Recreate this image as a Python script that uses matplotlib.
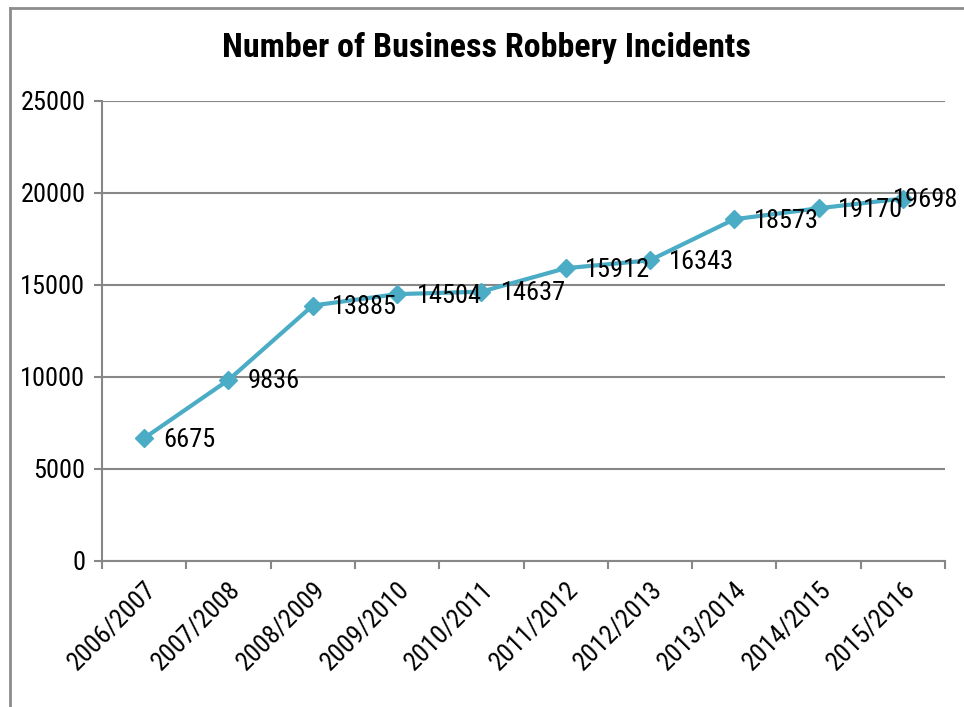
import matplotlib
matplotlib.use('Agg')
import matplotlib.pyplot as plt
from matplotlib.lines import Line2D

years = ['2006/2007', '2007/2008', '2008/2009', '2009/2010', '2010/2011',
         '2011/2012', '2012/2013', '2013/2014', '2014/2015', '2015/2016']
incidents = [6675, 9836, 13885, 14504, 14637, 15912, 16343, 18573, 19170, 19698]
y_ticks = [0, 5000, 10000, 15000, 20000, 25000]

plt.rcParams['font.family'] = ['Roboto Condensed', 'DejaVu Sans']

line_color = '#4BACC6'
grid_color = '#878787'

fig = plt.figure(figsize=(9.64, 7.07), dpi=100)
ax = fig.add_axes([102 / 964, 1 - 561 / 707, (945 - 102) / 964, (561 - 101) / 707])

x = list(range(len(years)))
ax.plot(x, incidents, color=line_color, lw=3, marker='D', ms=9,
        mec=line_color, mfc=line_color, zorder=3, clip_on=False)

for xi, v in zip(x[:-1], incidents[:-1]):
    ax.annotate(str(v), (xi, v), xytext=(14, -1), textcoords='offset points',
                ha='left', va='center', fontsize=19, color='black', zorder=4,
                annotation_clip=False)

# the last label is pushed back against the right edge of the chart
ax.annotate(str(incidents[-1]), (0.994, incidents[-1]),
            xycoords=('figure fraction', 'data'), xytext=(0, -1),
            textcoords='offset points', ha='right', va='center',
            fontsize=19, color='black', zorder=4, annotation_clip=False)

ax.set_xlim(-0.5, len(years) - 0.5)
ax.set_ylim(0, 25000)
ax.set_yticks(y_ticks)
ax.set_yticklabels([str(t) for t in y_ticks], fontsize=19)
ax.yaxis.grid(True, color=grid_color, lw=1.5)
ax.set_axisbelow(True)

# category boundaries get the tick marks, labels sit at the centres
ax.set_xticks([i - 0.5 for i in range(len(years) + 1)])
ax.set_xticklabels([])
ax.set_xticks(x, minor=True)
ax.set_xticklabels(years, minor=True, rotation=45, ha='right',
                   rotation_mode='anchor', fontsize=19)
ax.tick_params(axis='x', which='minor', length=0, pad=12)
ax.tick_params(axis='x', which='major', length=6, width=1.5, color=grid_color)
ax.tick_params(axis='y', length=6, width=1.5, color=grid_color, pad=6)

for side in ['top', 'right']:
    ax.spines[side].set_visible(False)
for side in ['left', 'bottom']:
    ax.spines[side].set_color(grid_color)
    ax.spines[side].set_linewidth(1.5)

fig.text(0.505, 1 - 48 / 707, 'Number of Business Robbery Incidents',
         ha='center', va='center', fontsize=24.5, fontweight='bold')

# outer chart frame
fig.add_artist(Line2D([10 / 964, 1], [1 - 8 / 707, 1 - 8 / 707],
                      transform=fig.transFigure, color='#8c8c8c', lw=2))
fig.add_artist(Line2D([10 / 964, 10 / 964], [0, 1 - 8 / 707],
                      transform=fig.transFigure, color='#8c8c8c', lw=2))

fig.savefig('out.png', dpi=100)
